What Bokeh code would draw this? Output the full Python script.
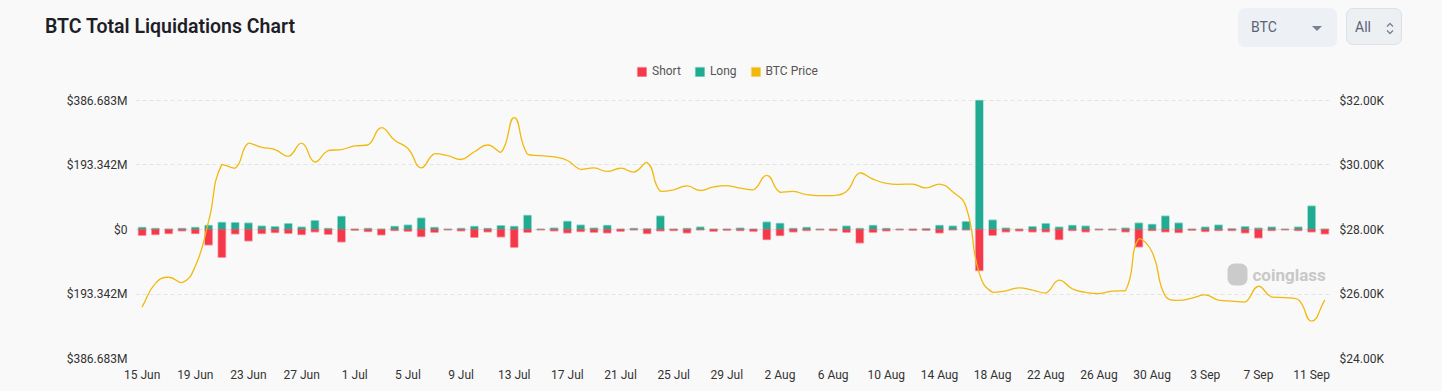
import math
import pandas as pd
from bokeh.plotting import figure
from bokeh.models import (Range1d, LinearAxis, FixedTicker, Legend, LegendItem,
                          Label, BoxAnnotation, Div, ColumnDataSource)
from bokeh.layouts import column
from bokeh.embed import file_html
from bokeh.resources import INLINE

# ---------------- data ----------------
dates = [d.strftime("%-d %b") for d in pd.date_range("2023-06-15", periods=90)]
day_index = list(range(90))

long_m = [6, 3, 1, 3, 6, 12, 21, 20, 19, 10, 8, 17, 7, 26, 3, 39, 1, 3, 1, 9,
          13, 34, 6, 1, 3, 9, 3, 11, 9, 42, 1, 4, 24, 13, 4, 12, 1, 3, 2, 40,
          1, 3, 7, 1, 1, 4, 1, 22, 18, 3, 6, 1, 1, 10, 3, 12, 3, 1, 1, 2,
          12, 10, 23, 386.683, 28, 4, 1, 8, 17, 7, 12, 10, 1, 1, 4, 19, 15, 40, 19, 1,
          7, 13, 2, 8, 4, 7, 1, 7, 70, 1]

short_m = [17, 15, 12, 4, 12, 46, 83, 13, 34, 12, 9, 11, 15, 7, 14, 37, 2, 6, 16, 3,
           5, 21, 8, 1, 4, 23, 7, 22, 53, 8, 1, 4, 10, 6, 8, 10, 5, 1, 12, 4,
           3, 10, 1, 5, 2, 3, 5, 30, 18, 7, 3, 1, 3, 8, 40, 8, 4, 1, 2, 2,
           10, 1, 1, 123, 17, 7, 4, 7, 7, 30, 3, 7, 1, 1, 7, 52, 3, 7, 9, 2,
           6, 3, 3, 10, 25, 3, 1, 3, 7, 13]

btc_price = [25600, 26330, 26520, 26350, 26860, 28250, 30020, 29900, 30680, 30550,
             30480, 30270, 30680, 30090, 30450, 30480, 30590, 30620, 31160, 30770,
             30510, 29910, 30350, 30290, 30170, 30410, 30620, 30390, 31470, 30330,
             30290, 30250, 30140, 29860, 29910, 29800, 29900, 29780, 30080, 29180,
             29230, 29350, 29210, 29320, 29360, 29280, 29230, 29680, 29150, 29180,
             29080, 29050, 29050, 29180, 29760, 29560, 29430, 29400, 29410, 29290,
             29410, 29170, 28700, 26640, 26050, 26100, 26190, 26120, 26030, 26430,
             26160, 26050, 26010, 26090, 26100, 27720, 27300, 25930, 25800, 25870,
             25970, 25810, 25780, 25750, 26240, 25900, 25890, 25830, 25160, 25820]

x_tick_idx = list(range(0, 90, 4))
x_tick_labels = ["15 Jun", "19 Jun", "23 Jun", "27 Jun", "1 Jul", "5 Jul", "9 Jul",
                 "13 Jul", "17 Jul", "21 Jul", "25 Jul", "29 Jul", "2 Aug", "6 Aug",
                 "10 Aug", "14 Aug", "18 Aug", "22 Aug", "26 Aug", "30 Aug", "3 Sep",
                 "7 Sep", "11 Sep"]
left_ticks = [-386.683, -193.342, 0, 193.342, 386.683]
left_tick_labels = ["$386.683M", "$193.342M", "$0", "$193.342M", "$386.683M"]
right_ticks = [24000, 26000, 28000, 30000, 32000]
right_tick_labels = ["$24.00K", "$26.00K", "$28.00K", "$30.00K", "$32.00K"]

# ---------------- style / layout ----------------
RED = "#f5394b"
TEAL = "#20ab93"
YELLOW = "#f0b90b"
BG = "#f9f9f9"
FONT = "Roboto"

PAGE_W = 1440
HEADER_H = 50
FIG_H = 340
FRAME_LEFT, FRAME_W = 135, 1196          # page px
AXIS_TOP_PX, AXIS_BOTTOM_PX = 100, 358   # page px where the value axes end
FRAME_TOP_PX = 58                        # frame extended upward to host the legend
AXIS_H = AXIS_BOTTOM_PX - AXIS_TOP_PX
FRAME_H = AXIS_BOTTOM_PX - FRAME_TOP_PX
EXTRA = AXIS_TOP_PX - FRAME_TOP_PX

XR = (-0.5, 89.5)
LR = (-386.683, 386.683)
PR = (24000, 32000)
# extend the ranges upward by the legend band, keeping the same scale
l_top = LR[1] + EXTRA * (LR[1] - LR[0]) / AXIS_H
p_top = PR[1] + EXTRA * (PR[1] - PR[0]) / AXIS_H

# smooth-line control points (echarts-like), computed in pixel space
kx = FRAME_W / (XR[1] - XR[0])
ky = AXIS_H / (PR[1] - PR[0])


def smooth_segments(xs, ys, smooth=0.5):
    n = len(xs)
    px = [x * kx for x in xs]
    py = [y * ky for y in ys]
    c_out, c_in = [], []
    for i in range(n):
        pv, nx = max(i - 1, 0), min(i + 1, n - 1)
        vx, vy = px[nx] - px[pv], py[nx] - py[pv]
        d0 = math.hypot(px[i] - px[pv], py[i] - py[pv])
        d1 = math.hypot(px[nx] - px[i], py[nx] - py[i])
        r = d1 / (d0 + d1) if d0 + d1 > 0 else 0.5
        ox, oy = px[i] + vx * smooth * r, py[i] + vy * smooth * r
        ix, iy = px[i] - vx * smooth * (1 - r), py[i] - vy * smooth * (1 - r)
        ox = min(max(ox, min(px[nx], px[i])), max(px[nx], px[i]))
        oy = min(max(oy, min(py[nx], py[i])), max(py[nx], py[i]))
        ix = min(max(ix, min(px[pv], px[i])), max(px[pv], px[i]))
        iy = min(max(iy, min(py[pv], py[i])), max(py[pv], py[i]))
        c_out.append((ox / kx, oy / ky))
        c_in.append((ix / kx, iy / ky))
    return dict(
        x0=xs[:-1], y0=ys[:-1], x1=xs[1:], y1=ys[1:],
        cx0=[c_out[i][0] for i in range(n - 1)], cy0=[c_out[i][1] for i in range(n - 1)],
        cx1=[c_in[i + 1][0] for i in range(n - 1)], cy1=[c_in[i + 1][1] for i in range(n - 1)],
    )


# ---------------- figure ----------------
min_top = FRAME_TOP_PX - HEADER_H
min_bottom = FIG_H - min_top - FRAME_H
min_right = PAGE_W - FRAME_LEFT - FRAME_W
p = figure(frame_width=FRAME_W, frame_height=FRAME_H, width=PAGE_W, height=FIG_H,
           min_border_left=FRAME_LEFT, min_border_right=min_right,
           min_border_top=min_top, min_border_bottom=min_bottom,
           x_range=Range1d(*XR), y_range=Range1d(LR[0], l_top),
           output_backend="svg", toolbar_location=None, tools="",
           background_fill_color=BG, border_fill_color=BG)
p.outline_line_color = None
p.margin = 0
p.extra_y_ranges = {"price": Range1d(PR[0], p_top)}

src = ColumnDataSource(dict(x=day_index, long=long_m,
                            short=[-v for v in short_m], zero=[0] * len(day_index)))

r_long = p.vbar(x="x", top="long", bottom="zero", width=0.55, source=src,
                fill_color=TEAL, line_color=TEAL, line_alpha=0.35, line_width=1.6)
r_short = p.vbar(x="x", top="zero", bottom="short", width=0.55, source=src,
                 fill_color=RED, line_color=RED, line_alpha=0.35, line_width=1.6)
# legend proxy for the price series (square swatch, draws nothing in the plot)
r_leg_price = p.vbar(x=[0], top=[float("nan")], bottom=[float("nan")], width=0.55,
                     fill_color=YELLOW, line_color=YELLOW, line_alpha=0.35, line_width=1.6)

seg = ColumnDataSource(smooth_segments(day_index, btc_price, 0.5))
p.bezier(x0="x0", y0="y0", x1="x1", y1="y1", cx0="cx0", cy0="cy0", cx1="cx1", cy1="cy1",
         source=seg, y_range_name="price", line_color=YELLOW, line_width=1.3)

# axes
xa = p.xaxis[0]
xa.ticker = FixedTicker(ticks=x_tick_idx)
xa.major_label_overrides = {i: l for i, l in zip(x_tick_idx, x_tick_labels)}
ya = p.yaxis[0]
ya.ticker = FixedTicker(ticks=left_ticks)
ya.major_label_overrides = {t: l for t, l in zip(left_ticks, left_tick_labels)}
ra = LinearAxis(y_range_name="price", ticker=FixedTicker(ticks=right_ticks))
ra.major_label_overrides = {t: l for t, l in zip(right_ticks, right_tick_labels)}
p.add_layout(ra, "right")

for ax in (xa, ya, ra):
    ax.axis_line_color = None
    ax.major_tick_line_color = None
    ax.minor_tick_line_color = None
    ax.major_tick_out = 0
    ax.major_tick_in = 0
    ax.minor_tick_out = 0
    ax.major_label_text_font = FONT
    ax.major_label_text_font_size = "12px"
    ax.major_label_text_color = "#333333"
xa.major_label_standoff = 9
ya.major_label_standoff = 8
ra.major_label_standoff = 8

p.xgrid.grid_line_color = None
p.ygrid.grid_line_color = "#e4e4e4"
p.ygrid.grid_line_dash = "4 3"
p.ygrid.grid_line_width = 1

legend = Legend(items=[LegendItem(label="Short", renderers=[r_short], index=0),
                       LegendItem(label="Long", renderers=[r_long], index=0),
                       LegendItem(label="BTC Price", renderers=[r_leg_price], index=0)],
                orientation="horizontal", location=(636 - FRAME_LEFT, AXIS_BOTTOM_PX - 78),
                glyph_width=11, glyph_height=11, label_standoff=5, spacing=13,
                padding=0, margin=0, label_height=12,
                label_text_font=FONT, label_text_font_size="12px",
                label_text_color="#555555",
                border_line_alpha=0, background_fill_alpha=0)
p.add_layout(legend, "center")

# watermark (screen units, relative to the frame's bottom-left corner)
p.add_layout(BoxAnnotation(left=1227 - FRAME_LEFT, right=1247 - FRAME_LEFT,
                           top=AXIS_BOTTOM_PX - 263, bottom=AXIS_BOTTOM_PX - 285,
                           left_units="screen", right_units="screen",
                           top_units="screen", bottom_units="screen",
                           fill_color="#cbcbcb", fill_alpha=1, line_color=None,
                           border_radius=7))
p.add_layout(Label(x=1252 - FRAME_LEFT, y=AXIS_BOTTOM_PX - 274, x_units="screen",
                   y_units="screen", text="coinglass",
                   text_font=FONT, text_font_size="17px", text_font_style="bold",
                   text_color="#c8c8c8", text_baseline="middle"))

header_html = f"""
<div style="position:relative;width:{PAGE_W}px;height:{HEADER_H}px;font-family:{FONT},sans-serif;background:{BG};">
  <div style="position:absolute;left:45px;top:16px;font-size:19.5px;line-height:22px;font-weight:600;color:#1e1e28;white-space:nowrap;">BTC Total Liquidations Chart</div>
  <div style="position:absolute;left:1238px;top:8px;width:99px;height:39px;background:#edf0f4;border-radius:7px;">
    <span style="position:absolute;left:13px;top:11px;font-size:14px;line-height:17px;color:#5c6275;">BTC</span>
    <span style="position:absolute;left:74px;top:18px;width:0;height:0;border-left:5px solid transparent;border-right:5px solid transparent;border-top:5px solid #7b8194;"></span>
  </div>
  <div style="position:absolute;left:1346px;top:8px;width:56px;height:37px;background:#edf0f3;border:1px solid #dde1e6;border-radius:7px;">
    <span style="position:absolute;left:8px;top:10px;font-size:14px;line-height:17px;color:#5c6275;">All</span>
    <svg style="position:absolute;left:38px;top:13px;" width="10" height="13" viewBox="0 0 10 13">
      <polyline points="2,4.5 5,1.5 8,4.5" fill="none" stroke="#7b8194" stroke-width="1.3"/>
      <polyline points="2,8.5 5,11.5 8,8.5" fill="none" stroke="#7b8194" stroke-width="1.3"/>
    </svg>
  </div>
</div>
"""
header = Div(text=header_html, width=PAGE_W, height=HEADER_H, margin=0,
             styles={"background-color": BG})

layout = column(header, p, spacing=0, margin=0)

html = file_html(layout, INLINE)
html = html.replace("<body>", f'<body style="background-color:{BG};">', 1)
html = html.replace("<html", f'<html style="background-color:{BG};"', 1)
open("out.html", "w").write(html)
